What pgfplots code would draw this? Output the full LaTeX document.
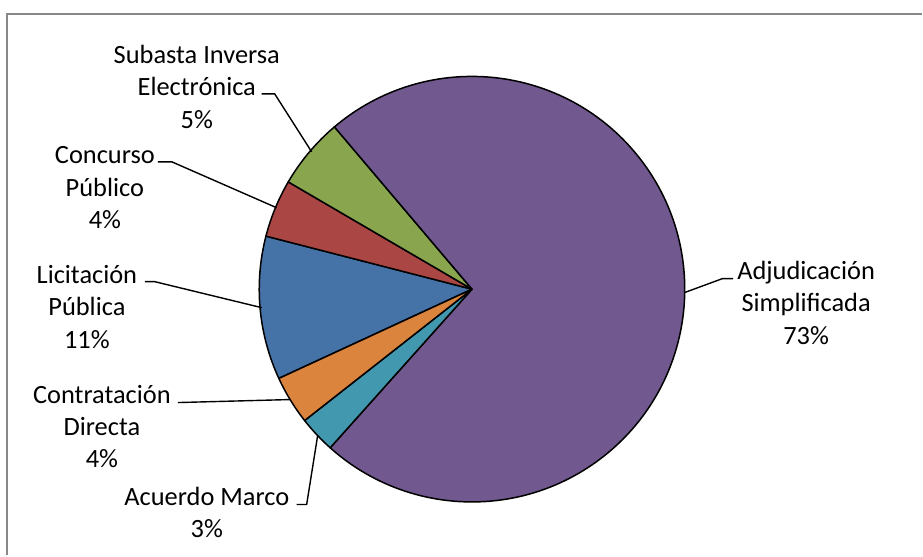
\documentclass[border=0pt]{standalone}
\usepackage{pgfplots}
\pgfplotsset{compat=1.18}
\usepackage{pgfplotstable}
\usepackage{fontspec}
\setmainfont{Carlito}
\definecolor{cblue}{HTML}{4572A7}
\definecolor{cred}{HTML}{AA4643}
\definecolor{cgreen}{HTML}{89A54E}
\definecolor{cpurple}{HTML}{71588F}
\definecolor{cteal}{HTML}{4198AF}
\definecolor{corange}{HTML}{DB843D}
\definecolor{frame}{HTML}{898989}

% shares in percent, clockwise order starting from Licitacion Publica
\pgfplotstableread{
name value
Licitacion 10.9
Concurso 4.4
Subasta 5.4
Adjudicacion 72.8
Acuerdo 2.8
Contratacion 3.7
}\piedata

\pgfplotstablegetelem{0}{value}\of\piedata \pgfmathsetmacro\vA{\pgfplotsretval}
\pgfplotstablegetelem{1}{value}\of\piedata \pgfmathsetmacro\vB{\pgfplotsretval}
\pgfplotstablegetelem{2}{value}\of\piedata \pgfmathsetmacro\vC{\pgfplotsretval}
\pgfplotstablegetelem{3}{value}\of\piedata \pgfmathsetmacro\vD{\pgfplotsretval}
\pgfplotstablegetelem{4}{value}\of\piedata \pgfmathsetmacro\vE{\pgfplotsretval}
\pgfplotstablegetelem{5}{value}\of\piedata \pgfmathsetmacro\vF{\pgfplotsretval}
\pgfmathsetmacro\aA{204.8}
\pgfmathsetmacro\aB{\aA-3.6*\vA}
\pgfmathsetmacro\aC{\aB-3.6*\vB}
\pgfmathsetmacro\aD{\aC-3.6*\vC}
\pgfmathsetmacro\aE{\aD-3.6*\vD}
\pgfmathsetmacro\aF{\aE-3.6*\vE}
\pgfmathsetmacro\aG{\aF-3.6*\vF}

\newcommand\pieslice[3]{%
  \filldraw[fill=#1,draw=black,line width=1.5pt,line join=round]
    (axis cs:472.5,266.5) -- ++(#2:213pt) arc[start angle=#2,end angle=#3,radius=213pt] -- cycle;}
\tikzset{lbl/.style={font=\fontsize{26.4}{32.5}\selectfont,align=center,inner sep=0pt,text=black}}

\begin{document}
\begin{tikzpicture}
\begin{axis}[x=1pt,y=1pt,xmin=0,xmax=923,ymin=0,ymax=556,hide axis,clip=false]
\path (axis cs:0,0) rectangle (axis cs:923,556);
% frame (top and left edges visible)
\addplot[frame,line width=2pt,mark=none] coordinates {(7.5,0) (7.5,541.5) (923,541.5)};
% wedges
\pieslice{cblue}{\aA}{\aB}
\pieslice{cred}{\aB}{\aC}
\pieslice{cgreen}{\aC}{\aD}
\pieslice{cpurple}{\aD}{\aE}
\pieslice{cteal}{\aE}{\aF}
\pieslice{corange}{\aF}{\aG}
% leader lines
\addplot[black,line width=1.4pt,mark=none] coordinates {(262,462) (275,462) (312,404)};
\addplot[black,line width=1.4pt,mark=none] coordinates {(158,394) (172,394) (277,348)};
\addplot[black,line width=1.4pt,mark=none] coordinates {(145,274) (155,274) (262,248)};
\addplot[black,line width=1.4pt,mark=none] coordinates {(178,153) (290,156)};
\addplot[black,line width=1.4pt,mark=none] coordinates {(297,51) (307,51) (318,120)};
\addplot[black,line width=1.4pt,mark=none] coordinates {(734,277) (723,277) (685,263)};
% labels
\node[lbl] at (axis cs:197,469) {Subasta Inversa\\Electrónica\\5\%};
\node[lbl] at (axis cs:105,368) {Concurso\\Público\\4\%};
\node[lbl] at (axis cs:87,249) {Licitación\\Pública\\11\%};
\node[lbl] at (axis cs:102,129) {Contratación\\Directa\\4\%};
\node[lbl] at (axis cs:207,43) {Acuerdo Marco\\3\%};
\node[lbl] at (axis cs:807,253) {Adjudicación\\Simplificada\\73\%};
\end{axis}
\end{tikzpicture}
\end{document}
